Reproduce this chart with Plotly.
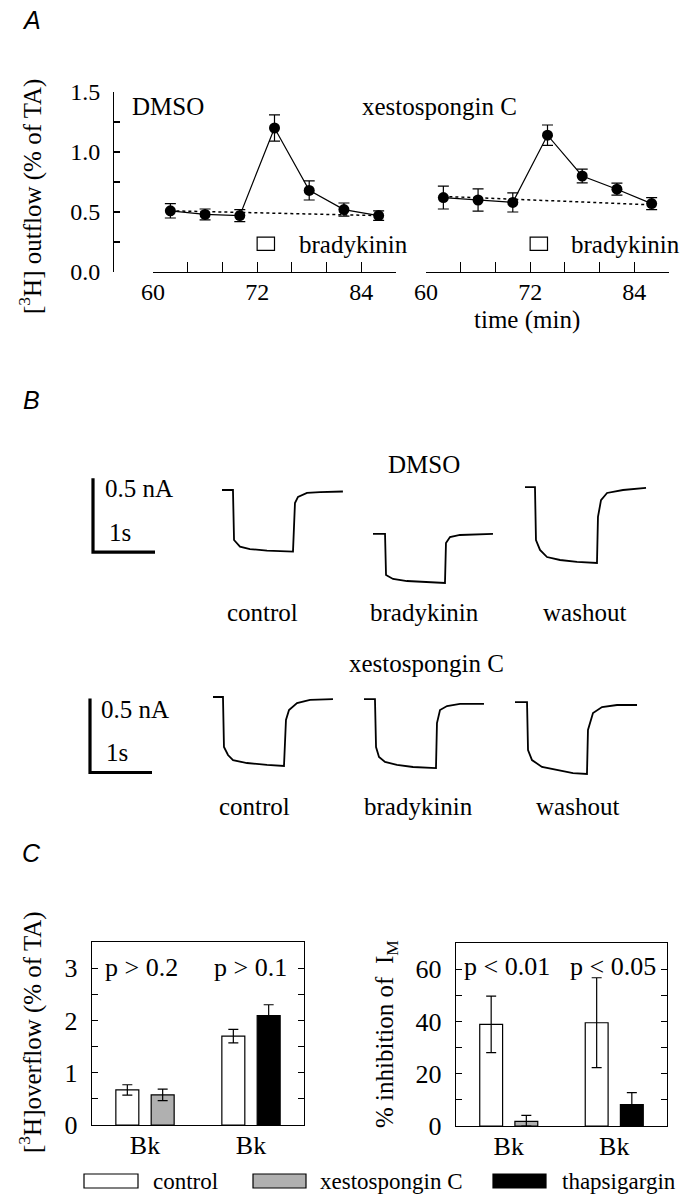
import plotly.graph_objects as go

W, H = 684, 1200
SERIF = "Liberation Serif, Times New Roman, serif"
SANS = "Liberation Sans, Arial, sans-serif"

# ---------------- Panel A data ----------------
TIME_MIN = [62, 66, 70, 74, 78, 82, 86]
DMSO_OUT = [0.51, 0.48, 0.47, 1.20, 0.68, 0.52, 0.47]
DMSO_SEM = [0.06, 0.045, 0.05, 0.11, 0.08, 0.055, 0.04]
XESTO_OUT = [0.62, 0.60, 0.58, 1.14, 0.80, 0.69, 0.57]
XESTO_SEM = [0.095, 0.093, 0.08, 0.085, 0.057, 0.05, 0.05]
BASE_T = [62, 86]
DMSO_BASE = [0.51, 0.47]
XESTO_BASE = [0.63, 0.56]
BK_APPLIED = [72, 74]
A_XTICKS = [60, 72, 84]
A_YTICKS = [0, 0.5, 1.0, 1.5]
A_YLABELS = ["0.0", "0.5", "1.0", "1.5"]

# ---------------- Panel B data (time s, current nA) ----------------
DMSO_CTRL_T = [0, 0.177, 0.194, 0.29, 0.45, 0.726, 1.145, 1.177, 1.226, 1.371, 1.58, 1.95]
DMSO_CTRL_I = [0, 0, -0.338, -0.383, -0.399, -0.41, -0.416, -0.088, -0.047, -0.02, -0.014, -0.01]
DMSO_BK_T = [0, 0.194, 0.21, 0.323, 0.548, 0.871, 1.161, 1.177, 1.242, 1.403, 1.935]
DMSO_BK_I = [-0.297, -0.297, -0.574, -0.601, -0.615, -0.622, -0.628, -0.358, -0.318, -0.304, -0.297]
DMSO_WASH_T = [0, 0.161, 0.177, 0.242, 0.355, 0.565, 0.839, 1.161, 1.177, 1.226, 1.323, 1.581, 1.952]
DMSO_WASH_I = [0.02, 0.02, -0.338, -0.405, -0.453, -0.473, -0.486, -0.493, -0.182, -0.068, -0.02, 0, 0.014]
XESTO_CTRL_T = [0, 0.161, 0.177, 0.242, 0.323, 0.548, 0.871, 1.145, 1.177, 1.226, 1.355, 1.565, 1.935]
XESTO_CTRL_I = [0, 0, -0.338, -0.392, -0.426, -0.446, -0.459, -0.466, -0.155, -0.088, -0.041, -0.02, -0.014]
XESTO_BK_T = [0, 0.177, 0.194, 0.242, 0.339, 0.532, 0.79, 1.161, 1.177, 1.226, 1.339, 1.548, 1.935]
XESTO_BK_I = [-0.014, -0.014, -0.338, -0.405, -0.439, -0.459, -0.473, -0.48, -0.176, -0.088, -0.061, -0.047, -0.047]
XESTO_WASH_T = [0, 0.194, 0.21, 0.274, 0.435, 0.677, 0.935, 1.161, 1.177, 1.258, 1.403, 1.645, 1.968]
XESTO_WASH_I = [-0.034, -0.034, -0.358, -0.426, -0.473, -0.493, -0.514, -0.52, -0.223, -0.108, -0.068, -0.054, -0.054]
SCALE_NA = 0.5
SCALE_S = 1.0
B_LABELS = ["control", "bradykinin", "washout"]

# ---------------- Panel C data ----------------
C_CATS = ["Bk", "Bk"]
OVF_CONTROL = [0.67, 1.70]
OVF_CONTROL_SEM = [0.10, 0.13]
OVF_XESTO = [0.575]
OVF_XESTO_SEM = [0.11]
OVF_THAPS = [2.09]
OVF_THAPS_SEM = [0.21]
INH_CONTROL = [38.9, 39.5]
INH_CONTROL_SEM = [10.8, 17.2]
INH_XESTO = [1.8]
INH_XESTO_SEM = [2.3]
INH_THAPS = [8.2]
INH_THAPS_SEM = [4.6]
P_OVF = ["p > 0.2", "p > 0.1"]
P_INH = ["p < 0.01", "p < 0.05"]
LEGEND_NAMES = ["control", "xestospongin C", "thapsigargin"]

# ---------------- styles / layout helpers ----------------
BLACK = "black"
GRAY = "#b0b0b0"
WHITE = "white"
COLORS = [WHITE, GRAY, BLACK]


def px(x):
    return x / W


def py(y):
    return 1 - y / H


fig = go.Figure()

# ---- Panel A ----
for xa, ya, vals, sem, base in [("x", "y", DMSO_OUT, DMSO_SEM, DMSO_BASE),
                                ("x2", "y2", XESTO_OUT, XESTO_SEM, XESTO_BASE)]:
    fig.add_trace(go.Scatter(x=BASE_T, y=base, xaxis=xa, yaxis=ya, mode="lines",
                             line=dict(color=BLACK, width=1.5, dash="dot"), showlegend=False))
    fig.add_trace(go.Scatter(x=TIME_MIN, y=vals, xaxis=xa, yaxis=ya, mode="lines+markers",
                             line=dict(color=BLACK, width=1.2),
                             marker=dict(color=BLACK, size=11),
                             error_y=dict(type="data", array=sem, color=BLACK, thickness=1.2, width=5.5),
                             showlegend=False))

# ---- Panel B ----
B_ROW1 = [(DMSO_CTRL_T, DMSO_CTRL_I, "x3"), (DMSO_BK_T, DMSO_BK_I, "x4"), (DMSO_WASH_T, DMSO_WASH_I, "x5")]
B_ROW2 = [(XESTO_CTRL_T, XESTO_CTRL_I, "x7"), (XESTO_BK_T, XESTO_BK_I, "x8"), (XESTO_WASH_T, XESTO_WASH_I, "x9")]
for row, ya in [(B_ROW1, "y3"), (B_ROW2, "y4")]:
    for t, i, xa in row:
        fig.add_trace(go.Scatter(x=t, y=i, xaxis=xa, yaxis=ya, mode="lines",
                                 line=dict(color=BLACK, width=1.8), showlegend=False))
# scale bars
for xa, ya, top in [("x6", "y3", 0.08), ("x10", "y4", -0.01)]:
    fig.add_trace(go.Scatter(x=[0, 0, SCALE_S], y=[top, top - SCALE_NA, top - SCALE_NA],
                             xaxis=xa, yaxis=ya, mode="lines",
                             line=dict(color=BLACK, width=3.2), showlegend=False))

# ---- Panel C ----
GROUP_POS = [1.5, 4.5]
BAR_W = 0.65


def err(vals, sem):
    return dict(type="data", array=sem, arrayminus=[min(s, v) for s, v in zip(sem, vals)],
                color=BLACK, thickness=1.2, width=5)


for xa, ya, ctl, ctl_s, xes, xes_s, tha, tha_s in [
        ("x11", "y5", OVF_CONTROL, OVF_CONTROL_SEM, OVF_XESTO, OVF_XESTO_SEM, OVF_THAPS, OVF_THAPS_SEM),
        ("x12", "y6", INH_CONTROL, INH_CONTROL_SEM, INH_XESTO, INH_XESTO_SEM, INH_THAPS, INH_THAPS_SEM)]:
    fig.add_trace(go.Bar(x=[p - 0.5 for p in GROUP_POS], y=ctl, width=BAR_W, xaxis=xa, yaxis=ya,
                         marker=dict(color=WHITE, line=dict(color=BLACK, width=1.2)),
                         textposition="none", error_y=err(ctl, ctl_s), showlegend=False))
    fig.add_trace(go.Bar(x=[GROUP_POS[0] + 0.5], y=xes, width=BAR_W, xaxis=xa, yaxis=ya,
                         marker=dict(color=GRAY, line=dict(color=BLACK, width=1.2)),
                         textposition="none", error_y=err(xes, xes_s), showlegend=False))
    fig.add_trace(go.Bar(x=[GROUP_POS[1] + 0.5], y=tha, width=BAR_W, xaxis=xa, yaxis=ya,
                         marker=dict(color=BLACK, line=dict(color=BLACK, width=1.2)),
                         textposition="none", error_y=err(tha, tha_s), showlegend=False))

# ---------------- axes ----------------
tickfontA = dict(family=SERIF, size=24, color=BLACK)
tickfontC = dict(family=SERIF, size=26, color=BLACK)
A_YDOM = [py(272), py(92)]

layout = dict(
    template="none",
    width=W, height=H, margin=dict(l=0, r=0, t=0, b=0, pad=0, autoexpand=False),
    paper_bgcolor="white", plot_bgcolor="rgba(0,0,0,0)",
    bargap=0, barmode="overlay", showlegend=False,
    font=dict(family=SERIF, color=BLACK),
)
axA_x = dict(range=[60, 88], showline=True, linecolor=BLACK, linewidth=1.2, ticks="inside",
             ticklen=10, tickwidth=1.2, tickcolor=BLACK, tickmode="array", tickvals=A_XTICKS,
             minor=dict(ticks="inside", ticklen=10, tickwidth=1.2, tickcolor=BLACK, tick0=60, dtick=4),
             tickfont=tickfontA, showgrid=False, zeroline=False, ticklabelstandoff=-2,
             automargin=False)
layout["xaxis"] = dict(axA_x, domain=[px(153), px(396)], anchor="y")
layout["xaxis2"] = dict(axA_x, domain=[px(426), px(669)], anchor="y2")
layout["yaxis"] = dict(domain=A_YDOM, range=[0, 1.5], anchor="free", position=px(113),
                       showline=True, linecolor=BLACK, linewidth=1.2, ticks="inside", ticklen=6,
                       tickwidth=1.2, tickcolor=BLACK, tickmode="array", tickvals=A_YTICKS,
                       ticktext=A_YLABELS,
                       minor=dict(ticks="inside", ticklen=6, tickwidth=1.2, tickcolor=BLACK,
                                  tick0=0, dtick=0.25),
                       tickfont=tickfontA, showgrid=False, zeroline=False, ticklabelstandoff=8,
                       automargin=False)
layout["yaxis2"] = dict(domain=A_YDOM, range=[0, 1.5], anchor="x2", visible=False, automargin=False)

hidden = dict(visible=False, showgrid=False, zeroline=False, automargin=False)
# Panel B: 62 px per s, 148 px per nA
PX_S, PX_NA = 62.0, 148.0


def trace_xaxis(x0, anchor, span=2.1):
    return dict(hidden, range=[-0.05, span - 0.05], anchor=anchor,
                domain=[px(x0 - 0.05 * PX_S), px(x0 + (span - 0.05) * PX_S)])


def row_yaxis(y_zero, top, bottom):
    return dict(hidden, range=[(y_zero - bottom) / PX_NA, (y_zero - top) / PX_NA],
                domain=[py(bottom), py(top)])


layout["yaxis3"] = dict(row_yaxis(490, 455, 605), anchor="x3")
layout["yaxis4"] = dict(row_yaxis(697, 670, 800), anchor="x7")
for name, x0 in [("xaxis3", 222), ("xaxis4", 373), ("xaxis5", 525)]:
    layout[name] = trace_xaxis(x0, "y3")
for name, x0 in [("xaxis7", 213), ("xaxis8", 364), ("xaxis9", 515)]:
    layout[name] = trace_xaxis(x0, "y4")
layout["xaxis6"] = trace_xaxis(93, "y3", span=1.1)
layout["xaxis10"] = trace_xaxis(90, "y4", span=1.1)

# Panel C
axC_x = dict(range=[0, 6], showline=True, mirror=True, linecolor=BLACK, linewidth=1.2,
             ticks="", tickmode="array", tickvals=GROUP_POS, ticktext=C_CATS, tickfont=tickfontC,
             showgrid=False, zeroline=False, ticklabelstandoff=-3, automargin=False)
axC_y = dict(showline=True, mirror="ticks", linecolor=BLACK, linewidth=1.2, ticks="inside",
             ticklen=6, tickwidth=1.2, tickcolor=BLACK, tickfont=tickfontC, tickmode="array",
             showgrid=False, zeroline=False, ticklabelstandoff=8, automargin=False)
layout["xaxis11"] = dict(axC_x, domain=[px(92), px(304)], anchor="y5")
layout["xaxis12"] = dict(axC_x, domain=[px(456), px(667)], anchor="y6")
layout["yaxis5"] = dict(axC_y, domain=[py(1125), py(942)], anchor="x11", range=[0, 3.5],
                        tickvals=[0, 1, 2, 3],
                        minor=dict(ticks="inside", ticklen=6, tickwidth=1.2, tickcolor=BLACK,
                                   tick0=0, dtick=0.5))
layout["yaxis6"] = dict(axC_y, domain=[py(1126), py(943)], anchor="x12", range=[0, 70],
                        tickvals=[0, 20, 40, 60],
                        minor=dict(ticks="inside", ticklen=6, tickwidth=1.2, tickcolor=BLACK,
                                   tick0=0, dtick=10))

fig.update_layout(**layout)

# ---------------- annotations ----------------
ann = []


def text(x, y, s, size=25, xanchor="center", family=SERIF, angle=0, italic=False):
    f = dict(family=family, size=size, color=BLACK)
    if italic:
        f["style"] = "italic"
    ann.append(dict(x=px(x), y=py(y), xref="paper", yref="paper", text=s, showarrow=False,
                    xanchor=xanchor, yanchor="middle", font=f, textangle=angle))


# panel letters
text(31, 20, "A", size=25, family=SANS, italic=True)
text(31, 400, "B", size=25, family=SANS, italic=True)
text(31, 853, "C", size=25, family=SANS, italic=True)

# panel A
text(130, 107, "DMSO", xanchor="left")
text(360, 107, "xestospongin C", xanchor="left")
text(297, 245, "bradykinin", xanchor="left")
text(569, 245, "bradykinin", xanchor="left")
text(527, 320, "time (min)")
text(30, 197, "[<sup>3</sup>H] outflow (% of TA)", angle=-90)

shapes = []
for xr, yr in [("x", "y"), ("x2", "y2")]:
    shapes.append(dict(type="rect", xref=xr, yref=yr, x0=BK_APPLIED[0], x1=BK_APPLIED[1],
                       y0=0.18, y1=0.29, line=dict(color=BLACK, width=1.2), fillcolor=WHITE))

# panel B
text(424, 465, "DMSO")
text(426, 663, "xestospongin C")
for lbl, x in zip(B_LABELS, [262, 424, 584]):
    text(x, 612, lbl)
for lbl, x in zip(B_LABELS, [254, 418, 577]):
    text(x, 806, lbl)
text(103, 489, "0.5 nA", xanchor="left")
text(107, 532, "1s", xanchor="left")
text(99, 709, "0.5 nA", xanchor="left")
text(104, 753, "1s", xanchor="left")

# panel C
for s, x in zip(P_OVF, [141, 250]):
    text(x, 967, s, size=26)
for s, x in zip(P_INH, [507, 613]):
    text(x, 966, s, size=26)
text(30, 1032, "[<sup>3</sup>H]overflow (% of TA)", angle=-90)
text(386, 1034, "% inhibition of  I<sub>M</sub>", angle=-90)

# legend
for name, col, x0, x1, tx in zip(LEGEND_NAMES, COLORS, [84, 253, 493], [138, 306, 546], [151, 318, 560]):
    shapes.append(dict(type="rect", xref="paper", yref="paper", x0=px(x0), x1=px(x1),
                       y0=py(1188), y1=py(1174), fillcolor=col, line=dict(color=BLACK, width=1.2)))
    text(tx, 1181, name, size=23, xanchor="left")

fig.update_layout(annotations=ann, shapes=shapes)
fig.write_html(
    "out.html",
    config={"displayModeBar": False, "staticPlot": True},
    post_script="document.body.style.margin='0px';document.body.style.overflow='hidden';"
                "document.documentElement.style.overflow='hidden';",
)
